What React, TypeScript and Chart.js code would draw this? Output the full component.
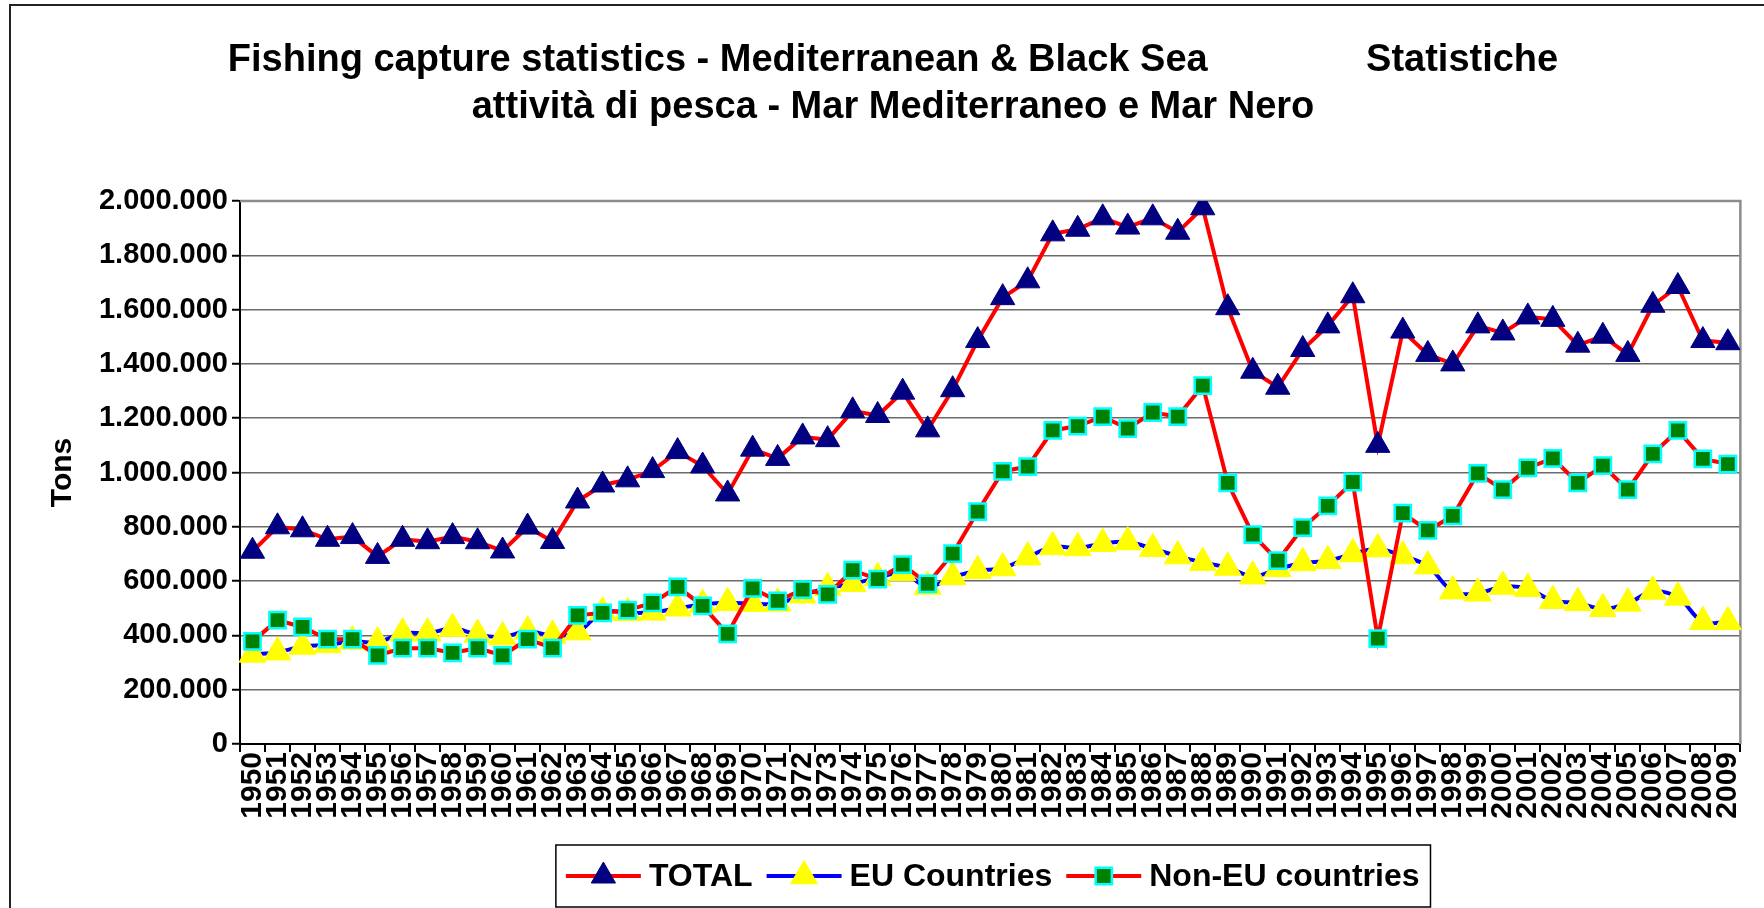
import React, { useEffect, useRef } from "react";
import { Chart, registerables } from "chart.js";

Chart.register(...registerables);

const years = [
  "1950", "1951", "1952", "1953", "1954", "1955", "1956", "1957", "1958", "1959",
  "1960", "1961", "1962", "1963", "1964", "1965", "1966", "1967", "1968", "1969",
  "1970", "1971", "1972", "1973", "1974", "1975", "1976", "1977", "1978", "1979",
  "1980", "1981", "1982", "1983", "1984", "1985", "1986", "1987", "1988", "1989",
  "1990", "1991", "1992", "1993", "1994", "1995", "1996", "1997", "1998", "1999",
  "2000", "2001", "2002", "2003", "2004", "2005", "2006", "2007", "2008", "2009",
];

const totalValues = [
  710000, 800000, 789000, 754000, 764000, 691000, 754000, 745000, 764000, 745000,
  711000, 799000, 746000, 895000, 954000, 973000, 1007000, 1077000, 1024000, 921000,
  1086000, 1052000, 1131000, 1121000, 1227000, 1210000, 1296000, 1157000, 1305000, 1486000,
  1644000, 1706000, 1879000, 1896000, 1938000, 1904000, 1938000, 1885000, 1975000, 1607000,
  1373000, 1314000, 1453000, 1540000, 1651000, 1100000, 1521000, 1435000, 1400000, 1540000,
  1514000, 1573000, 1564000, 1469000, 1502000, 1435000, 1616000, 1685000, 1486000, 1478000,
];

const euValues = [
  330000, 338000, 359000, 365000, 378000, 375000, 408000, 408000, 425000, 403000,
  394000, 415000, 400000, 412000, 485000, 483000, 485000, 500000, 514000, 520000,
  517000, 518000, 548000, 575000, 590000, 612000, 630000, 580000, 615000, 638000,
  648000, 688000, 726000, 722000, 738000, 744000, 719000, 692000, 668000, 650000,
  618000, 645000, 667000, 675000, 700000, 718000, 692000, 655000, 563000, 555000,
  580000, 572000, 528000, 520000, 498000, 518000, 562000, 540000, 450000, 450000,
];

const nonEuValues = [
  378000, 456000, 431000, 386000, 386000, 326000, 353000, 353000, 336000, 353000,
  326000, 386000, 353000, 474000, 483000, 493000, 520000, 579000, 509000, 406000,
  573000, 527000, 569000, 551000, 640000, 607000, 661000, 590000, 701000, 856000,
  1004000, 1022000, 1155000, 1171000, 1206000, 1162000, 1221000, 1206000, 1320000, 962000,
  771000, 675000, 797000, 877000, 965000, 388000, 850000, 787000, 840000, 997000,
  937000, 1017000, 1052000, 962000, 1025000, 937000, 1069000, 1155000, 1050000, 1031000,
];

const seriesLabels = ["TOTAL", "EU Countries", "Non-EU countries"];
const titleLines = [
  "Fishing capture statistics - Mediterranean & Black Sea               Statistiche",
  "attività di pesca - Mar Mediterraneo e Mar Nero",
];
const yAxisTitle = "Tons";
const yMin = 0;
const yMax = 2000000;
const yStep = 200000;

const FONT = "Arial, 'Liberation Sans', Helvetica, sans-serif";

function fmtThousands(v: number): string {
  const s = String(Math.round(v));
  return s.replace(/\B(?=(\d{3})+(?!\d))/g, ".");
}

function drawMarker(ctx: CanvasRenderingContext2D, style: string, r: number, x: number, y: number, fill: string, stroke: string, bw: number) {
  ctx.beginPath();
  if (style === "triangle") {
    ctx.moveTo(x, y - r);
    ctx.lineTo(x + 0.866 * r, y + r / 2);
    ctx.lineTo(x - 0.866 * r, y + r / 2);
    ctx.closePath();
  } else {
    const s = r * Math.SQRT1_2;
    ctx.rect(x - s, y - s, 2 * s, 2 * s);
  }
  ctx.fillStyle = fill;
  ctx.fill();
  if (bw > 0) {
    ctx.lineWidth = bw;
    ctx.strokeStyle = stroke;
    ctx.stroke();
  }
}

const backgroundPlugin = {
  id: "bgFrame",
  beforeDraw(chart: any) {
    const { ctx, width, height } = chart;
    ctx.save();
    ctx.fillStyle = "#ffffff";
    ctx.fillRect(0, 0, width, height);
    ctx.strokeStyle = "#222222";
    ctx.lineWidth = 2;
    ctx.beginPath();
    ctx.moveTo(10, height + 5);
    ctx.lineTo(10, 5);
    ctx.lineTo(width + 5, 5);
    ctx.stroke();
    ctx.restore();
  },
  beforeDatasetsDraw(chart: any) {
    const { ctx, chartArea } = chart;
    ctx.save();
    ctx.strokeStyle = "#8c8c8c";
    ctx.lineWidth = 2.5;
    ctx.beginPath();
    ctx.moveTo(chartArea.left, chartArea.top);
    ctx.lineTo(chartArea.right, chartArea.top);
    ctx.lineTo(chartArea.right, chartArea.bottom);
    ctx.stroke();
    ctx.restore();
  },
};

const legendPlugin = {
  id: "lineLegend",
  afterDraw(chart: any) {
    const { ctx, chartArea } = chart;
    const ds = chart.data.datasets;
    ctx.save();
    ctx.font = `bold 32px ${FONT}`;
    const lineLen = 75, gapText = 8, gapItem = 14, padL = 10, padR = 11;
    const widths = ds.map((d: any) => ctx.measureText(d.label).width);
    let total = padL + padR + gapItem * (ds.length - 1);
    widths.forEach((w: number) => { total += lineLen + gapText + w; });
    const cx = (chartArea.left + chartArea.right) / 2 + 3;
    const left = cx - total / 2;
    const top = 845, bottom = 907, cy = 876;
    ctx.strokeStyle = "#000000";
    ctx.lineWidth = 1.5;
    ctx.strokeRect(left, top, total, bottom - top);
    let x = left + padL;
    ds.forEach((d: any, i: number) => {
      ctx.strokeStyle = d.borderColor;
      ctx.lineWidth = d.borderWidth;
      ctx.beginPath();
      ctx.moveTo(x, cy);
      ctx.lineTo(x + lineLen, cy);
      ctx.stroke();
      drawMarker(ctx, d.pointStyle, d.pointRadius, x + lineLen / 2, cy, d.pointBackgroundColor, d.pointBorderColor, d.pointBorderWidth);
      ctx.fillStyle = "#000000";
      ctx.textAlign = "left";
      ctx.textBaseline = "middle";
      ctx.fillText(d.label, x + lineLen + gapText, cy + 1);
      x += lineLen + gapText + widths[i] + gapItem;
    });
    ctx.restore();
  },
};

export default function App() {
  const canvasRef = useRef<HTMLCanvasElement | null>(null);

  useEffect(() => {
    document.body.style.margin = "0";
    const canvas = canvasRef.current;
    if (!canvas) return;
    const chart = new Chart(canvas, {
      type: "line",
      data: {
        labels: years,
        datasets: [
          {
            label: seriesLabels[0],
            data: totalValues,
            borderColor: "#FF0000",
            borderWidth: 4,
            pointStyle: "triangle",
            pointRadius: 14,
            pointHoverRadius: 14,
            pointBackgroundColor: "#000080",
            pointBorderColor: "#000080",
            pointBorderWidth: 1,
            tension: 0,
            order: 3,
          },
          {
            label: seriesLabels[1],
            data: euValues,
            borderColor: "#0000FF",
            borderWidth: 4,
            pointStyle: "triangle",
            pointRadius: 15.5,
            pointHoverRadius: 15.5,
            pointBackgroundColor: "#FFFF00",
            pointBorderColor: "#FFFF00",
            pointBorderWidth: 1,
            tension: 0.4,
            order: 2,
          },
          {
            label: seriesLabels[2],
            data: nonEuValues,
            borderColor: "#FF0000",
            borderWidth: 4,
            pointStyle: "rect",
            pointRadius: 11.5,
            pointHoverRadius: 11.5,
            pointBackgroundColor: "#008000",
            pointBorderColor: "#00FFFF",
            pointBorderWidth: 2.5,
            tension: 0,
            order: 1,
          },
        ],
      },
      options: {
        responsive: false,
        animation: false,
        devicePixelRatio: 1,
        events: [],
        layout: { padding: { left: 38, right: 16, top: 37, bottom: 84 } },
        plugins: {
          legend: { display: false },
          tooltip: { enabled: false },
          title: {
            display: true,
            text: titleLines,
            color: "#000000",
            font: { family: FONT, size: 38, weight: "bold", lineHeight: 47 / 38 },
            padding: { top: 0, bottom: 70 },
          },
        },
        scales: {
          x: {
            type: "category",
            offset: true,
            grid: {
              offset: true,
              drawOnChartArea: false,
              drawTicks: true,
              tickLength: 8,
              color: "#000000",
              lineWidth: 2,
            },
            border: { color: "#000000", width: 2 },
            ticks: {
              autoSkip: false,
              minRotation: 90,
              maxRotation: 90,
              padding: 0,
              color: "#000000",
              font: { family: FONT, size: 30, weight: "bold" },
            },
            afterFit: (s: any) => { s.height = 80; },
          },
          y: {
            min: yMin,
            max: yMax,
            ticks: {
              stepSize: yStep,
              padding: 4,
              color: "#000000",
              font: { family: FONT, size: 29, weight: "bold" },
              callback: (v: any) => fmtThousands(Number(v)),
            },
            grid: {
              color: "#6a6a6a",
              lineWidth: 1.5,
              tickLength: 8,
              tickColor: "#000000",
              tickWidth: 2,
            },
            border: { color: "#000000", width: 2 },
            title: {
              display: true,
              text: yAxisTitle,
              color: "#000000",
              font: { family: FONT, size: 30, weight: "bold" },
              padding: { top: 7, bottom: 0 },
            },
            afterFit: (s: any) => { s.width = 202; },
          },
        },
      },
      plugins: [backgroundPlugin, legendPlugin],
    } as any);
    return () => chart.destroy();
  }, []);

  return (
    <div style={{ position: "fixed", left: 0, top: 0, width: 1764, height: 908, background: "#fff" }}>
      <canvas ref={canvasRef} width={1764} height={908} style={{ display: "block" }} />
    </div>
  );
}
